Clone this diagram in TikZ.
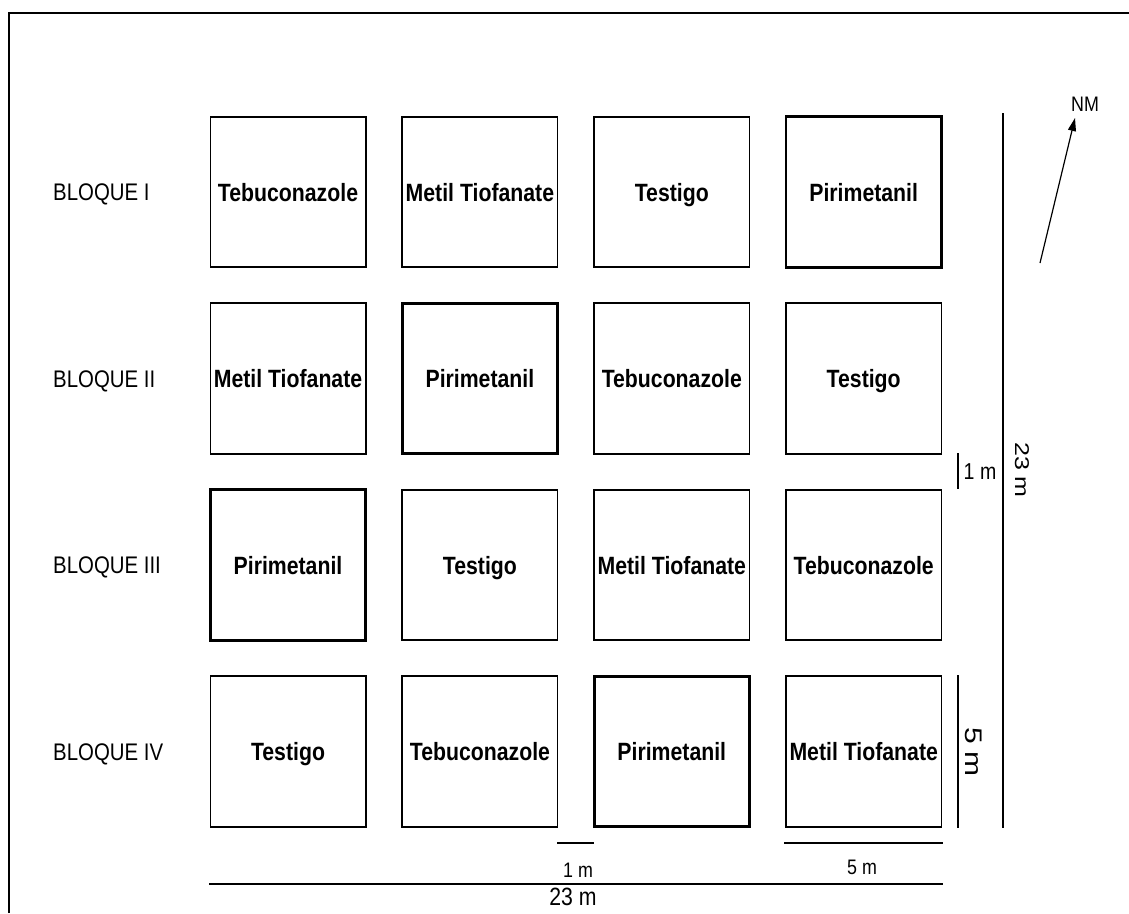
\documentclass[tikz,border=0pt]{standalone}
\usepackage{fontspec}
\setmainfont{Liberation Sans}[FakeStretch=0.85]
\newfontfamily\vertfont{Liberation Sans}[FakeStretch=1.25]
\usetikzlibrary{arrows.meta, positioning}

\begin{document}
\begin{tikzpicture}[
  x=1pt, y=-1pt,
  node distance=36pt and 36.5pt,
  plot/.style={rectangle, draw, line width=1.6pt, minimum width=155.4pt,
    minimum height=150.5pt, inner sep=0pt, outer sep=0pt, text height=18pt,
    text depth=0pt, font=\fontsize{25}{30}\selectfont\bfseries},
  pirplot/.style={plot, line width=2.8pt},
  bloque/.style={anchor=west, inner sep=0pt, text height=17pt, text depth=0pt,
    font=\fontsize{24}{28}\selectfont},
  dim/.style={line width=1.6pt},
  dimlbl/.style={inner sep=0pt, font=\fontsize{21}{25}\selectfont},
  vlbl/.style={inner sep=0pt, rotate=-90},
  arr/.style={-{Triangle[length=13pt, width=8pt]}, line width=1.2pt}
]
\useasboundingbox (0,0) rectangle (1129,913);
% outer frame
\draw[line width=1.2pt] (9,913) -- (9,13) -- (1129,13);

% plots, block I
\node[plot] (p11) at (288,192) {Tebuconazole};
\node[plot, right=of p11] (p12) {Metil Tiofanate};
\node[plot, right=of p12] (p13) {Testigo};
\node[pirplot, right=of p13] (p14) {Pirimetanil};
% block II
\node[plot, below=of p11] (p21) {Metil Tiofanate};
\node[pirplot, right=of p21] (p22) {Pirimetanil};
\node[plot, right=of p22] (p23) {Tebuconazole};
\node[plot, right=of p23] (p24) {Testigo};
% block III
\node[pirplot, below=of p21] (p31) {Pirimetanil};
\node[plot, right=of p31] (p32) {Testigo};
\node[plot, right=of p32] (p33) {Metil Tiofanate};
\node[plot, right=of p33] (p34) {Tebuconazole};
% block IV
\node[plot, below=of p31] (p41) {Testigo};
\node[plot, right=of p41] (p42) {Tebuconazole};
\node[pirplot, right=of p42] (p43) {Pirimetanil};
\node[plot, right=of p43] (p44) {Metil Tiofanate};

% block labels
\coordinate (lblx) at (53,0);
\node[bloque] (b1) at (lblx |- p11) {BLOQUE I};
\node[bloque] (b2) at (lblx |- p21) {BLOQUE II};
\node[bloque] (b3) at (lblx |- p31) {BLOQUE III};
\node[bloque] (b4) at (lblx |- p41) {BLOQUE IV};

% bottom dimensions
\coordinate (gapa) at (557,843); \coordinate (gapb) at (594,843);
\coordinate (plota) at (784,843); \coordinate (plotb) at (943,843);
\coordinate (tota) at (209,884); \coordinate (totb) at (943,884);
\draw[dim] (gapa) -- (gapb);
\draw[dim] (plota) -- (plotb);
\draw[dim] (tota) -- (totb);
\node[dimlbl] (lgap) at (578,870) {1 m};
\node[dimlbl] (lplot) at (862,867) {5 m};
\node[dimlbl, font=\fontsize{25}{30}\selectfont] (ltot) at (573,897) {23 m};

% right dimensions
\coordinate (vgapa) at (958,453); \coordinate (vgapb) at (958,489);
\coordinate (vplota) at (958,675); \coordinate (vplotb) at (958,828);
\coordinate (vtota) at (1003,113); \coordinate (vtotb) at (1003,828);
\draw[dim] (vgapa) -- (vgapb);
\draw[dim] (vplota) -- (vplotb);
\draw[dim] (vtota) -- (vtotb);
\node[dimlbl, font=\fontsize{23}{27}\selectfont] (lvgap) at (980,472) {1 m};
\node[vlbl, font=\vertfont\fontsize{24}{28}\selectfont] (lvplot) at (974,752) {5 m};
\node[vlbl, font=\vertfont\fontsize{20}{24}\selectfont] (lvtot) at (1022,470) {23 m};

% north arrow
\coordinate (nmtail) at (1040,263);
\coordinate (nmtip) at (1075,118);
\node[dimlbl] (nm) at (1085,104) {NM};
\draw[arr] (nmtail) -- (nmtip);
\end{tikzpicture}
\end{document}
